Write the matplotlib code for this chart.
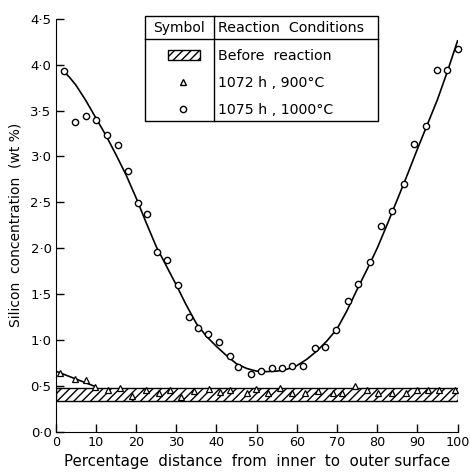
import numpy as np
import matplotlib
matplotlib.use("Agg")
from matplotlib import pyplot as plt
from matplotlib.patches import Rectangle

# 1075 h, 1000°C  (circles)
x_1000 = [2.0, 4.7, 7.5, 10.1, 12.8, 15.4, 17.9, 20.4, 22.8, 25.3, 27.7, 30.4, 33.1,
          35.4, 37.9, 40.6, 43.5, 45.4, 48.7, 51.2, 53.8, 56.3, 58.9, 61.6, 64.6,
          67.1, 69.7, 72.7, 75.3, 78.1, 80.9, 83.8, 86.6, 89.2, 92.1, 95.0, 97.4, 100.0]
y_1000 = [3.93, 3.38, 3.44, 3.40, 3.23, 3.13, 2.84, 2.49, 2.37, 1.96, 1.87, 1.60, 1.25,
          1.13, 1.06, 0.98, 0.82, 0.71, 0.63, 0.66, 0.69, 0.69, 0.72, 0.72, 0.91,
          0.92, 1.11, 1.42, 1.61, 1.85, 2.24, 2.41, 2.70, 3.14, 3.33, 3.94, 3.94, 4.17]

# curve drawn through the 1000°C points
curve_x = [2, 3.5, 5, 7.5, 10, 12.5, 15, 17.5, 20, 22.5, 25, 27.5, 30, 32.5, 35, 37.5,
           40, 42.5, 45, 47.5, 50, 52.5, 55, 57.5, 60, 62.5, 65, 67.5, 70, 72.5, 75,
           77.5, 80, 82.5, 85, 87.5, 90, 92.5, 95, 97.5, 100]
curve_y = [3.93, 3.86, 3.78, 3.61, 3.42, 3.23, 3.02, 2.80, 2.55, 2.28, 2.02, 1.81, 1.60,
           1.38, 1.18, 1.04, 0.93, 0.83, 0.74, 0.69, 0.66, 0.655, 0.66, 0.68, 0.72,
           0.79, 0.88, 0.99, 1.12, 1.32, 1.55, 1.77, 2.00, 2.26, 2.53, 2.80, 3.08,
           3.35, 3.62, 3.93, 4.26]

# 1072 h, 900°C  (triangles)
x_900 = [1.1, 4.7, 7.6, 9.7, 13.0, 15.9, 18.9, 22.4, 25.7, 28.4, 31.3, 34.4, 38.1,
         41.0, 43.5, 47.6, 49.8, 52.8, 55.9, 58.9, 62.1, 65.2, 68.9, 71.2, 74.5,
         77.4, 80.1, 83.6, 87.2, 89.8, 92.7, 95.4, 99.4]
y_900 = [0.64, 0.57, 0.56, 0.49, 0.45, 0.48, 0.39, 0.45, 0.42, 0.45, 0.38, 0.44, 0.47,
         0.43, 0.46, 0.42, 0.47, 0.42, 0.48, 0.42, 0.42, 0.44, 0.42, 0.42, 0.50,
         0.45, 0.42, 0.42, 0.42, 0.46, 0.46, 0.46, 0.46]
line_900_x = [0, 10]
line_900_y = [0.66, 0.49]

# before reaction band
band_low, band_high = 0.33, 0.48

x_ticks = list(range(0, 101, 10))
y_ticks = [0.0, 0.5, 1.0, 1.5, 2.0, 2.5, 3.0, 3.5, 4.0, 4.5]
y_ticklabels = ["0·0", "0·5", "1·0", "1·5", "2·0", "2·5", "3·0", "3·5", "4·0", "4·5"]

legend_rows = ["Before  reaction", "1072 h , 900°C", "1075 h , 1000°C"]

fig = plt.figure(figsize=(4.7, 4.74), dpi=100)
ax = fig.add_axes([0.1185, 0.0892, 0.855, 0.871])

ax.add_patch(Rectangle((0, band_low), 100, band_high - band_low, facecolor="none",
                       edgecolor="black", hatch="////", linewidth=1.0))
ax.plot(curve_x, curve_y, color="black", linewidth=1.2)
ax.plot(line_900_x, line_900_y, color="black", linewidth=1.2)
ax.plot(x_1000, y_1000, linestyle="none", marker="o", markersize=4.5,
        markerfacecolor="white", markeredgecolor="black", markeredgewidth=1.0,
        clip_on=False)
ax.plot(x_900, y_900, linestyle="none", marker="^", markersize=4,
        markerfacecolor="white", markeredgecolor="black", markeredgewidth=0.9,
        clip_on=False)

ax.set_xlim(0, 100)
ax.set_ylim(0, 4.5)
ax.set_xticks(x_ticks)
ax.set_yticks(y_ticks)
ax.set_yticklabels(y_ticklabels)
ax.tick_params(direction="in", length=6, width=1, labelsize=9.5, pad=3)
ax.tick_params(axis="x", labelsize=9.2)
ax.spines["top"].set_visible(False)
ax.spines["right"].set_visible(False)
ax.set_xlabel("Percentage  distance  from  inner  to  outer surface", fontsize=10.8, labelpad=4)
ax.set_ylabel("Silicon  concentration  (wt %)", fontsize=10, labelpad=6)

# table style legend, drawn in pixel coordinates
lg = fig.add_axes([0, 0, 1, 1], facecolor="none")
lg.set_xlim(0, 470)
lg.set_ylim(474, 0)
lg.axis("off")
lg.add_patch(Rectangle((145, 16), 233, 105, facecolor="white", edgecolor="black", linewidth=1))
lg.plot([145, 378], [38.5, 38.5], color="black", linewidth=1)
lg.plot([213.5, 213.5], [16, 121], color="black", linewidth=1)
lg.text(179, 27.5, "Symbol", ha="center", va="center", fontsize=10)
lg.text(218, 27.5, "Reaction  Conditions", ha="left", va="center", fontsize=10.3)
lg.add_patch(Rectangle((168, 50), 32, 10, facecolor="none", edgecolor="black",
                       hatch="////", linewidth=1))
lg.plot([182.5], [81.5], linestyle="none", marker="^", markersize=4,
        markerfacecolor="white", markeredgecolor="black")
lg.plot([182.5], [108.5], linestyle="none", marker="o", markersize=4.5,
        markerfacecolor="white", markeredgecolor="black")
for i, row in enumerate(legend_rows):
    lg.text(218, 56 + i * 27, row, ha="left", va="center", fontsize=10.2)

fig.savefig("out.png", dpi=100)
plt.close(fig)
